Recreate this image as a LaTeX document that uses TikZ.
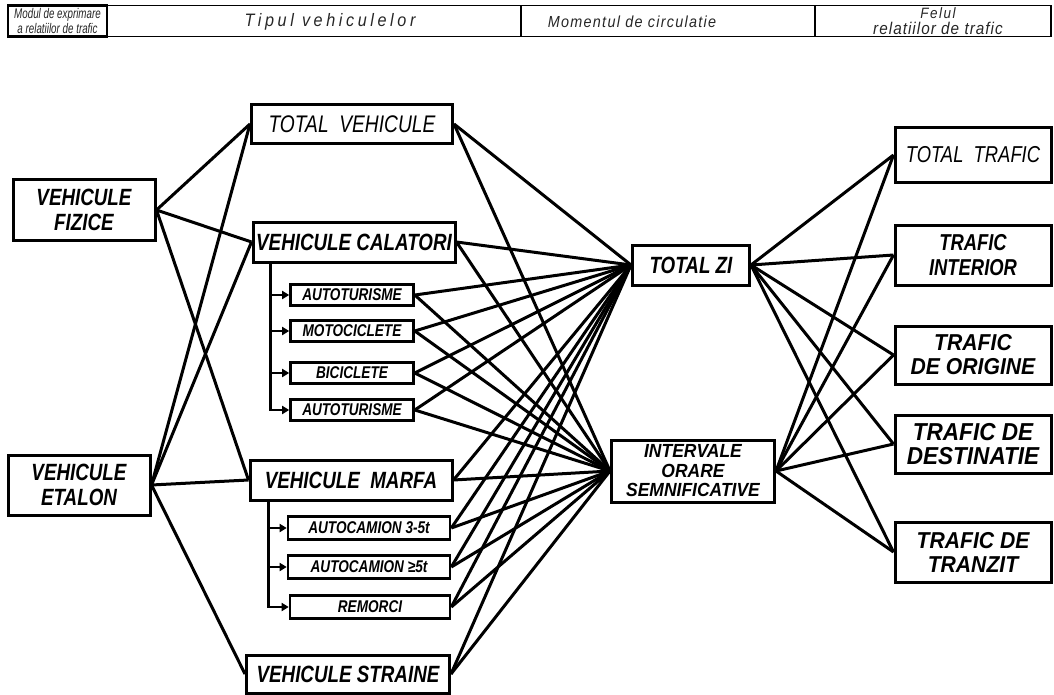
\documentclass[tikz,border=0pt]{standalone}
\usepackage{fontspec}
\setmainfont{Liberation Sans}
\newfontfamily\lbl[FakeStretch=0.8]{Liberation Sans}
\newfontfamily\lblw[FakeStretch=0.92]{Liberation Sans}
\newfontfamily\hdr[FakeStretch=0.9]{Liberation Sans}
\newfontfamily\hdrn[FakeStretch=0.7]{Liberation Sans}
\usetikzlibrary{arrows.meta}

\begin{document}
\begin{tikzpicture}[x=1pt,y=-1pt,
  bx/.style={draw, line width=3pt, inner sep=0pt, align=center,
    font=\lbl\bfseries\itshape\fontsize{23.5}{25}\selectfont},
  lightbx/.style={bx, font=\lbl\itshape\fontsize{24}{26}\selectfont},
  sub/.style={bx, line width=2.6pt, font=\lbl\bfseries\itshape\fontsize{17}{18}\selectfont},
  trf/.style={bx, minimum width=156pt, font=\lblw\bfseries\itshape\fontsize{23}{24}\selectfont},
  hcell/.style={draw, line width=1.4pt, inner sep=0pt, minimum height=31pt},
  htext/.style={inner sep=0pt, align=center, text=black!85,
    font=\hdr\itshape\fontsize{15}{16}\selectfont},
  link/.style={line width=3pt},
  stub/.style={line width=2.6pt, -{Triangle[length=7pt,width=8pt]}},
]
\useasboundingbox (0,0) rectangle (1054,695);

% header row: cells, then their captions
\node[hcell, line width=2.2pt, minimum width=99pt] (h1) at (57.5,21) {};
\node[hcell, minimum width=414pt] (h2) at (314,21) {};
\node[hcell, minimum width=294pt] (h3) at (668,21) {};
\node[hcell, minimum width=236pt] (h4) at (933,21) {};
\node[htext, font=\hdrn\itshape\fontsize{14}{15.5}\selectfont] (h1t) at (h1)
  {Modul de exprimare\\a relatiilor de trafic};
\node[htext] (h2t) at (330,22)
  {\addfontfeature{LetterSpace=20}\fontsize{18}{18}\selectfont Tipul vehiculelor};
\node[htext] (h3t) at (632,22)
  {\addfontfeature{LetterSpace=8}\fontsize{16}{16}\selectfont Momentul de circulatie};
\node[htext] (h4t) at (938,21)
  {\addfontfeature{LetterSpace=10}\fontsize{15}{16}\selectfont Felul\\\addfontfeature{LetterSpace=6}\fontsize{17}{17}\selectfont relatiilor de trafic};

% way of expressing traffic
\node[bx, minimum width=142pt, minimum height=60pt] (fiz) at (84,210) {VEHICULE\\FIZICE};
\node[bx, minimum width=142pt, minimum height=60pt] (eta) at (79,485) {VEHICULE\\ETALON};

% vehicle types
\node[lightbx, minimum width=201pt, minimum height=39pt] (tv) at (352,124) {TOTAL \ VEHICULE};
\node[bx, minimum width=202pt, minimum height=40pt] (cal) at (354,242) {VEHICULE CALATORI};
\node[sub, minimum width=123pt, minimum height=21pt] (a1) at (352,295) {AUTOTURISME};
\node[sub, minimum width=123pt, minimum height=21pt] (a2) at (352,331) {MOTOCICLETE};
\node[sub, minimum width=123pt, minimum height=21pt] (a3) at (352,373) {BICICLETE};
\node[sub, minimum width=123pt, minimum height=21pt] (a4) at (352,410) {AUTOTURISME};
\node[bx, minimum width=202pt, minimum height=40pt] (mar) at (351,480) {VEHICULE \ MARFA};
\node[sub, minimum width=162pt, minimum height=23pt] (c1) at (369,528) {AUTOCAMION 3-5t};
\node[sub, minimum width=162pt, minimum height=23pt] (c2) at (369,567) {AUTOCAMION ≥5t};
\node[sub, minimum width=160pt, minimum height=23pt] (rem) at (370,607) {REMORCI};
\node[bx, minimum width=203pt, minimum height=38pt] (str) at (348,674) {VEHICULE STRAINE};

% time of circulation
\node[bx, minimum width=117pt, minimum height=40pt] (tz) at (691,265) {TOTAL ZI};
\node[bx, minimum width=163pt, minimum height=62pt,
  font=\lblw\bfseries\itshape\fontsize{19}{19.5}\selectfont] (io) at (693,471)
  {INTERVALE\\ORARE\\SEMNIFICATIVE};

% kind of traffic relations
\node[trf, minimum height=55pt, font=\lbl\itshape\fontsize{23}{26}\selectfont] (tt) at (973,155) {TOTAL \ TRAFIC};
\node[trf, minimum height=60pt, font=\lbl\bfseries\itshape\fontsize{23}{25}\selectfont] (ti) at (973,255) {TRAFIC\\INTERIOR};
\node[trf, minimum height=58pt] (to) at (973,355) {TRAFIC\\DE ORIGINE};
\node[trf, minimum height=58pt, font=\lblw\bfseries\itshape\fontsize{24.5}{24}\selectfont] (td) at (973,444) {TRAFIC DE\\DESTINATIE};
\node[trf, minimum height=60pt] (tr) at (973,552) {TRAFIC DE\\TRANZIT};

% left links
\foreach \v in {tv,cal,mar} \draw[link] (fiz.east) -- (\v.west);
\foreach \v in {tv,cal,mar,str} \draw[link] (eta.east) -- (\v.west);

% sub-categories
\foreach \s in {a1,a2,a3,a4} \draw[stub] ([xshift=19pt]cal.south west) |- (\s.west);
\foreach \s in {c1,c2,rem} \draw[stub] ([xshift=20pt]mar.south west) |- (\s.west);

% vehicle types to time of circulation
\foreach \v in {tv,cal,a1,a2,a3,a4,mar,c1,c2,rem,str} {
  \draw[link] (\v.east) -- (tz.west);
  \draw[link] (\v.east) -- (io.west);
}

% time of circulation to traffic relations
\foreach \t in {tt,ti,to,td,tr} {
  \draw[link] (tz.east) -- (\t.west);
  \draw[link] (io.east) -- (\t.west);
}
\end{tikzpicture}
\end{document}
